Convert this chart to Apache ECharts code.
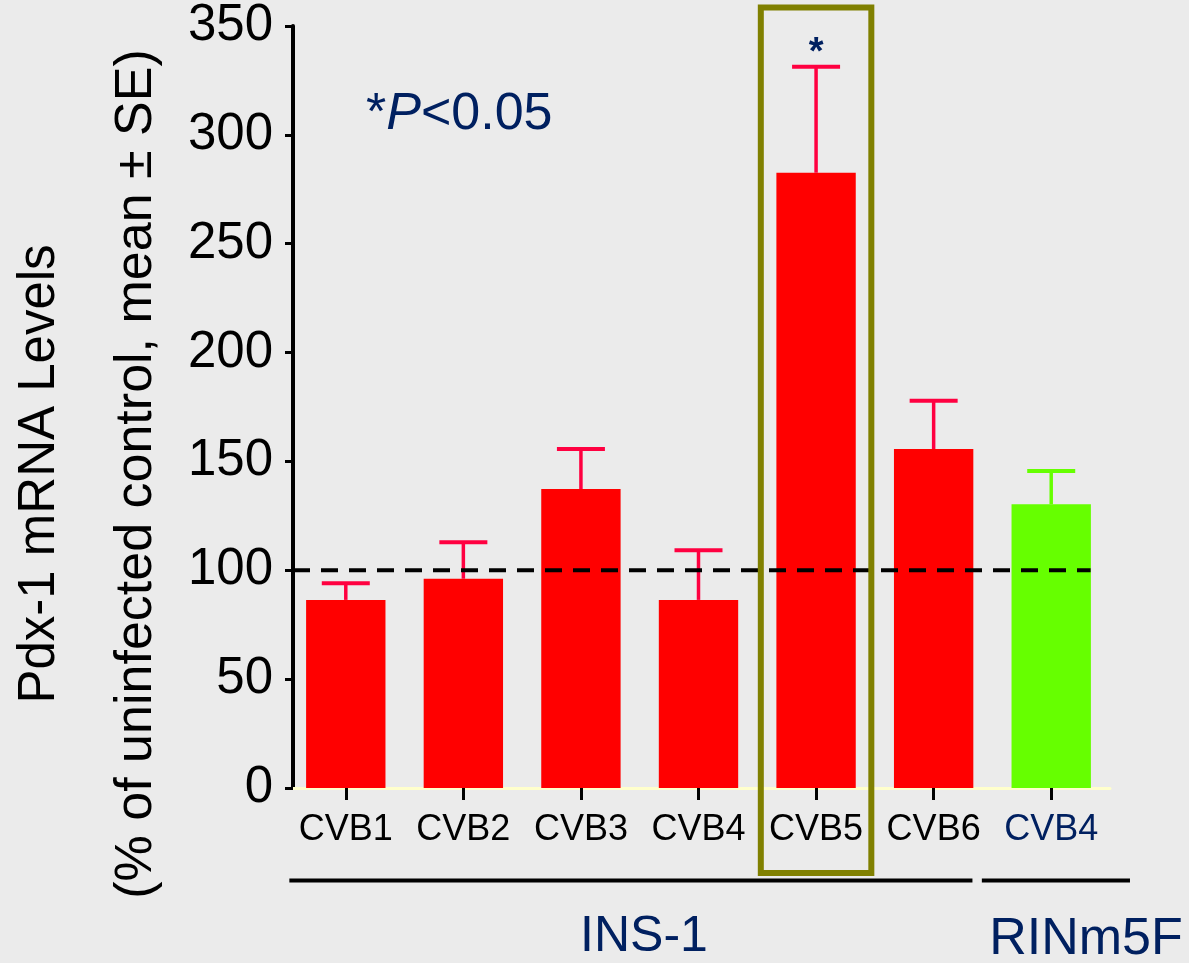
<!DOCTYPE html>
<html>
<head>
<meta charset="utf-8">
<script src="https://cdn.jsdelivr.net/npm/echarts@6/dist/echarts.min.js"></script>
<style>
html,body{margin:0;padding:0;background:#ebebeb;}
#c{width:1189px;height:963px;}
</style>
</head>
<body>
<div id="c"></div>
<script>
// ---- data ----
const categories = ['CVB1', 'CVB2', 'CVB3', 'CVB4', 'CVB5', 'CVB6', 'CVB4'];
const cellLines = ['INS-1', 'INS-1', 'INS-1', 'INS-1', 'INS-1', 'INS-1', 'RINm5F'];
const meanValues = [86.4, 96.1, 137.3, 86.4, 282.6, 155.7, 130.3];
const seValues = [7.6, 16.8, 18.4, 22.8, 48.7, 22.2, 15.3];
const yTicks = [0, 50, 100, 150, 200, 250, 300, 350];
const controlLevel = 100;
const significantIndex = 4;

const FONT = '"Liberation Sans", Arial, Helvetica, sans-serif';
const NAVY = '#002060';
const barColor = g => g === 'INS-1' ? '#ff0000' : '#66ff00';
const errColor = g => g === 'INS-1' ? '#ff0040' : '#66ff00';

const GRID_LEFT = 287;
const Y_AXIS_SHIFT = 6;

const chart = echarts.init(document.getElementById('c'), null, {renderer: 'canvas'});

const option = {
  backgroundColor: '#ebebeb',
  animation: false,
  grid: {left: GRID_LEFT, right: 79, top: 26, bottom: 175, containLabel: false},
  xAxis: {
    type: 'category',
    data: categories.map((c, i) => ({
      value: c,
      textStyle: {color: cellLines[i] === 'INS-1' ? '#000000' : NAVY}
    })),
    axisLine: {lineStyle: {color: '#ffffcc', width: 3}},
    axisTick: {show: true, alignWithLabel: true, length: 12, lineStyle: {color: '#000', width: 3}},
    axisLabel: {fontSize: 36, fontFamily: FONT, margin: 24, interval: 0},
    splitLine: {show: false}
  },
  yAxis: {
    type: 'value',
    min: yTicks[0],
    max: yTicks[yTicks.length - 1],
    interval: yTicks[1] - yTicks[0],
    offset: -Y_AXIS_SHIFT,
    axisLine: {show: true, lineStyle: {color: '#000', width: 4}},
    axisTick: {show: true, length: 8, lineStyle: {color: '#000', width: 3}},
    axisLabel: {fontSize: 51, fontFamily: FONT, color: '#000', margin: 20},
    splitLine: {show: false}
  },
  series: [
    {
      type: 'bar',
      barWidth: '67.5%',
      data: meanValues.map((v, i) => ({value: v, itemStyle: {color: barColor(cellLines[i])}})),
      z: 2
    },
    {
      type: 'custom',
      z: 3,
      clip: false,
      data: meanValues.map((v, i) => [i, v, v + seValues[i]]),
      renderItem: function (params, api) {
        const i = api.value(0);
        const p0 = api.coord([i, api.value(1)]);
        const p1 = api.coord([i, api.value(2)]);
        const col = errColor(cellLines[i]);
        const hw = 24;
        return {
          type: 'group',
          children: [
            {type: 'line', shape: {x1: p0[0], y1: p0[1], x2: p1[0], y2: p1[1]}, style: {stroke: col, lineWidth: 3.5}},
            {type: 'line', shape: {x1: p1[0] - hw, y1: p1[1], x2: p1[0] + hw, y2: p1[1]}, style: {stroke: col, lineWidth: 4}}
          ]
        };
      }
    }
  ]
};
chart.setOption(option);

// ---- annotations derived from the chart's scales ----
const px = (i, v) => chart.convertToPixel({gridIndex: 0}, [i, v]);
const catW = px(1, 0)[0] - px(0, 0)[0];
const n = categories.length;
const axisX = GRID_LEFT + Y_AXIS_SHIFT;
const ctrlY = px(0, controlLevel)[1];
const lastRight = px(n - 1, 0)[0] + catW * 0.335;
const sigC = px(significantIndex, 0)[0];
const boxTop = px(significantIndex, 358.5)[1];
const boxBot = px(significantIndex, -39)[1];
const sigTop = px(significantIndex, meanValues[significantIndex] + seValues[significantIndex])[1];
const groupLineY = px(0, -42.5)[1];
const insL = px(0, 0)[0] - catW * 0.48;
const insR = px(5, 0)[0] + catW * 0.33;
const rinL = px(6, 0)[0] - catW * 0.59;
const rinR = px(6, 0)[0] + catW * 0.67;

chart.setOption({
  graphic: [
    {type: 'line', z: 4, shape: {x1: axisX, y1: ctrlY, x2: lastRight, y2: ctrlY},
      style: {stroke: '#000', lineWidth: 4, lineDash: [17, 11]}},
    {type: 'rect', z: 5, shape: {x: sigC - catW * 0.47, y: boxTop, width: catW * 0.94, height: boxBot - boxTop},
      style: {fill: 'none', stroke: '#808000', lineWidth: 6}},
    {type: 'text', z: 6, style: {text: '*', x: sigC, y: sigTop + 6, align: 'center', verticalAlign: 'bottom',
      font: 'bold 38px ' + FONT, fill: NAVY}},
    {type: 'text', z: 6, style: {
      text: '{a|*}{p|P}{b|<0.05}', x: 366, y: 115, align: 'left', verticalAlign: 'middle',
      rich: {
        a: {font: '52px ' + FONT, fill: NAVY, verticalAlign: 'middle'},
        p: {font: 'italic 52px ' + FONT, fill: NAVY, verticalAlign: 'middle'},
        b: {font: '52px ' + FONT, fill: NAVY, verticalAlign: 'middle'}
      }}},
    {type: 'line', shape: {x1: insL, y1: groupLineY, x2: insR, y2: groupLineY}, style: {stroke: '#000', lineWidth: 4}},
    {type: 'line', shape: {x1: rinL, y1: groupLineY, x2: rinR, y2: groupLineY}, style: {stroke: '#000', lineWidth: 4}},
    {type: 'text', style: {text: cellLines[0], x: 644, y: 937, align: 'center', verticalAlign: 'middle',
      font: '50px ' + FONT, fill: NAVY}},
    {type: 'text', style: {text: cellLines[n - 1], x: 1086, y: 940, align: 'center', verticalAlign: 'middle',
      font: '52px ' + FONT, fill: NAVY}},
    {type: 'text', rotation: Math.PI / 2, x: 40, y: 474, style: {text: 'Pdx-1 mRNA Levels', x: 0, y: 0,
      align: 'center', verticalAlign: 'middle', font: '51px ' + FONT, fill: '#000'}},
    {type: 'text', rotation: Math.PI / 2, x: 137, y: 474, style: {text: '(% of uninfected control, mean ± SE)', x: 0, y: 0,
      align: 'center', verticalAlign: 'middle', font: '52px ' + FONT, fill: '#000'}}
  ]
});
</script>
</body>
</html>
